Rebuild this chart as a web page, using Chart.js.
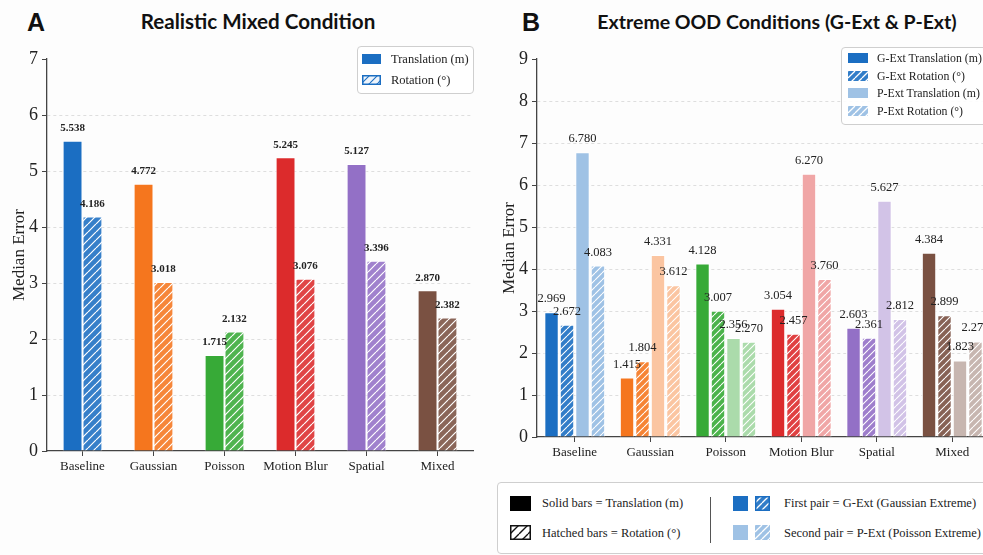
<!DOCTYPE html>
<html><head><meta charset="utf-8">
<script src="https://cdn.jsdelivr.net/npm/chart.js@4.4.1/dist/chart.umd.min.js"></script>
<style>
html,body{margin:0;padding:0;background:#fdfdfd;width:983px;height:555px;overflow:hidden;position:relative;font-family:"Liberation Serif",serif;color:#222}
canvas{position:absolute}
.letter{position:absolute;font:bold 25px "Liberation Sans",Arial,sans-serif;color:#111;line-height:1}
.title{position:absolute;font:bold 19.5px Lato,"Open Sans",sans-serif;white-space:nowrap;transform:translateX(-50%);color:#111;line-height:1}
.box{position:absolute;border:1px solid #cfcfcf;border-radius:4px;background:rgba(255,255,255,0.9)}
.txt{position:absolute;white-space:nowrap;font-size:12.5px;line-height:14px;color:#222}
.txtB{position:absolute;white-space:nowrap;font-size:11.8px;line-height:14px;color:#222}
.btxt{position:absolute;white-space:nowrap;font-size:12.5px;line-height:14px;color:#222}
</style></head><body>
<div class="letter" style="left:27px;top:10px">A</div>
<div class="title" id="tA" style="left:258px;top:11px;font-size:20.6px">Realistic Mixed Condition</div>
<div class="letter" style="left:522px;top:10px">B</div>
<div class="title" id="tB" style="left:777px;top:12px">Extreme OOD Conditions (G-Ext &amp; P-Ext)</div>
<canvas id="cA" width="490" height="480" style="left:0;top:0;width:490px;height:480px"></canvas>
<canvas id="cB" width="520" height="470" style="left:490px;top:0;width:520px;height:470px"></canvas>
<div id="overlay"></div>
<script>
// ---- data ----
const categories = ['Baseline', 'Gaussian', 'Poisson', 'Motion Blur', 'Spatial', 'Mixed'];
const realTranslation = [5.538, 4.772, 1.715, 5.245, 5.127, 2.870];
const realRotation    = [4.186, 3.018, 2.132, 3.076, 3.396, 2.382];
const gExtTranslation = [2.969, 1.415, 4.128, 3.054, 2.603, 4.384];
const gExtRotation    = [2.672, 1.804, 3.007, 2.457, 2.361, 2.899];
const pExtTranslation = [6.780, 4.331, 2.356, 6.270, 5.627, 1.823];
const pExtRotation    = [4.083, 3.612, 2.270, 3.760, 2.812, 2.276];
const yTicksA = [0, 1, 2, 3, 4, 5, 6, 7];
const yTicksB = [0, 1, 2, 3, 4, 5, 6, 7, 8, 9];
const legendLabelsA = ['Translation (m)', 'Rotation (°)'];
const legendLabelsB = ['G-Ext Translation (m)', 'G-Ext Rotation (°)', 'P-Ext Translation (m)', 'P-Ext Rotation (°)'];

// ---- styles ----
const baseColors = ['#1b6ec2', '#f5761e', '#37aa37', '#dc2b2c', '#9370c6', '#7a5142'];
function mix(hex, t) {
  const n = parseInt(hex.slice(1), 16);
  const r = (n >> 16) & 255, g = (n >> 8) & 255, b = n & 255;
  const f = v => Math.round(v + (255 - v) * t);
  return 'rgb(' + f(r) + ',' + f(g) + ',' + f(b) + ')';
}
function hatchCanvas(fill, line, size, lw) {
  const c = document.createElement('canvas');
  c.width = c.height = size;
  const x = c.getContext('2d');
  x.fillStyle = fill; x.fillRect(0, 0, size, size);
  x.strokeStyle = line; x.lineWidth = lw;
  x.beginPath();
  for (const k of [-1, 0, 1]) { x.moveTo(k * size, size); x.lineTo(k * size + size, 0); }
  x.stroke();
  return c;
}
function hatch(fill, line, size, lw) {
  const c = hatchCanvas(fill, line, size, lw);
  return c.getContext('2d').createPattern(c, 'repeat');
}

const valueLabels = {
  id: 'valueLabels',
  afterDatasetsDraw(chart, args, opts) {
    const ctx = chart.ctx;
    ctx.save();
    ctx.font = opts.font; ctx.fillStyle = opts.color;
    ctx.textAlign = 'center'; ctx.textBaseline = 'bottom';
    chart.data.datasets.forEach((ds, i) => {
      chart.getDatasetMeta(i).data.forEach((el, j) => {
        ctx.fillText(ds.data[j].toFixed(3), el.x, el.y - opts.offset);
      });
    });
    ctx.restore();
  }
};

function axes(maxV, ticksArr, xH, labelPad) {
  return {
    x: {
      grid: { display: true, drawOnChartArea: false, offset: false, tickLength: 5, tickColor: '#444', color: '#444' },
      border: { color: '#444', width: 1.3 },
      ticks: { font: { family: 'Liberation Serif', size: 13 }, color: '#222', padding: labelPad, maxRotation: 0, autoSkip: false },
      afterFit(s) { s.height = xH; }
    },
    y: {
      min: 0, max: maxV,
      afterBuildTicks(s) { s.ticks = ticksArr.map(v => ({ value: v })); },
      ticks: { font: { family: 'Liberation Serif', size: 18 }, color: '#222', padding: 4 },
      grid: {
        color: c => (c.tick && c.tick.value > 0 && c.tick.value < maxV) ? '#dedede' : 'rgba(0,0,0,0)',
        tickColor: '#444', tickLength: 5, lineWidth: 1
      },
      border: { dash: [3, 3], color: '#444', width: 1.3 },
      title: { display: true, text: 'Median Error', font: { family: 'Liberation Serif', size: 17 }, color: '#222', padding: { top: 9, bottom: 0 } },
      afterFit(s) { s.width = 47; }
    }
  };
}

new Chart(document.getElementById('cA'), {
  type: 'bar',
  data: {
    labels: categories,
    datasets: [
      { label: legendLabelsA[0], data: realTranslation, backgroundColor: baseColors, borderColor: '#fff', borderWidth: 1 },
      { label: legendLabelsA[1], data: realRotation, backgroundColor: baseColors.map(c => hatch(mix(c, 0.12), '#fff', 8, 1.2)), borderColor: '#fff', borderWidth: 1 }
    ]
  },
  options: {
    responsive: false, animation: false,
    layout: { padding: { top: 59, right: 17, left: 0, bottom: 0 } },
    datasets: { bar: { categoryPercentage: 0.56, barPercentage: 1 } },
    plugins: { legend: { display: false }, tooltip: { enabled: false },
      valueLabels: { font: 'bold 11px "Liberation Serif"', color: '#222', offset: 7 } },
    scales: axes(7, yTicksA, 29, 3)
  },
  plugins: [valueLabels]
});

new Chart(document.getElementById('cB'), {
  type: 'bar',
  data: {
    labels: categories,
    datasets: [
      { label: legendLabelsB[0], data: gExtTranslation, backgroundColor: baseColors, borderColor: '#fff', borderWidth: 1 },
      { label: legendLabelsB[1], data: gExtRotation, backgroundColor: baseColors.map(c => hatch(mix(c, 0.1), '#fff', 7, 1.1)), borderColor: '#fff', borderWidth: 1 },
      { label: legendLabelsB[2], data: pExtTranslation, backgroundColor: baseColors.map(c => mix(c, 0.58)), borderColor: '#fff', borderWidth: 1 },
      { label: legendLabelsB[3], data: pExtRotation, backgroundColor: baseColors.map(c => hatch(mix(c, 0.58), '#fff', 7, 1.1)), borderColor: '#fff', borderWidth: 1 }
    ]
  },
  options: {
    responsive: false, animation: false,
    layout: { padding: { top: 59, right: 20, left: 0, bottom: 0 } },
    datasets: { bar: { categoryPercentage: 0.82, barPercentage: 0.93 } },
    plugins: { legend: { display: false }, tooltip: { enabled: false },
      valueLabels: { font: '12.5px "Liberation Serif"', color: '#222', offset: 7 } },
    scales: axes(9, yTicksB, 33, 3)
  },
  plugins: [valueLabels]
});

// ---- HTML legends ----
const ov = document.getElementById('overlay');
function box(l, t, w, h) { const d = document.createElement('div'); d.className = 'box'; Object.assign(d.style, { left: l + 'px', top: t + 'px', width: w + 'px', height: h + 'px' }); ov.appendChild(d); }
function swatch(l, t, w, h, fill, hatchCol, border, size, lw) {
  const c = document.createElement('canvas');
  c.width = w; c.height = h;
  Object.assign(c.style, { left: l + 'px', top: t + 'px', width: w + 'px', height: h + 'px' });
  const x = c.getContext('2d');
  x.fillStyle = hatchCol ? x.createPattern(hatchCanvas(fill, hatchCol, size || 7, lw || 1.1), 'repeat') : fill;
  x.fillRect(0, 0, w, h);
  if (border) { x.strokeStyle = border; x.lineWidth = 1.5; x.strokeRect(0.75, 0.75, w - 1.5, h - 1.5); }
  ov.appendChild(c);
}
function text(l, cy, s, cls) { const d = document.createElement('div'); d.className = cls || 'txt'; d.textContent = s; Object.assign(d.style, { left: l + 'px', top: (cy - 7) + 'px' }); ov.appendChild(d); }

// Legend A
box(357, 46, 115, 46);
swatch(362, 54, 19, 10, baseColors[0]);
text(391, 59, legendLabelsA[0]);
swatch(362, 75, 19, 10, '#eef4fb', baseColors[0], baseColors[0], 8, 1.1);
text(391, 80, legendLabelsA[1]);

// Legend B
box(841, 47, 170, 76);
const rowsB = [58, 76, 93, 111];
swatch(848, rowsB[0] - 5, 20, 10, baseColors[0]);
swatch(848, rowsB[1] - 5, 20, 10, mix(baseColors[0], 0.1), '#fff', null, 7, 1.3);
swatch(848, rowsB[2] - 5, 20, 10, mix(baseColors[0], 0.58));
swatch(848, rowsB[3] - 5, 20, 10, mix(baseColors[0], 0.58), '#fff', null, 7, 1.3);
legendLabelsB.forEach((s, i) => text(877, rowsB[i], s, 'txtB'));

// Bottom legend
box(497, 482, 520, 70);
swatch(510, 496, 21, 15, '#000');
text(542, 503, 'Solid bars = Translation (m)', 'btxt');
swatch(510, 525, 21, 15, '#fff', '#111', '#111', 9, 1.4);
text(542, 533, 'Hatched bars = Rotation (°)', 'btxt');
const dv = document.createElement('div');
Object.assign(dv.style, { position: 'absolute', left: '710px', top: '497px', width: '1px', height: '46px', background: '#555' });
ov.appendChild(dv);
swatch(733, 496, 15, 15, baseColors[0]);
swatch(755, 496, 15, 15, mix(baseColors[0], 0.1), '#fff', baseColors[0], 7, 1.3);
text(784, 503, 'First pair = G-Ext (Gaussian Extreme)', 'btxt');
swatch(733, 525, 15, 15, mix(baseColors[0], 0.58));
swatch(755, 525, 15, 15, mix(baseColors[0], 0.58), '#fff', null, 7, 1.3);
text(784, 533, 'Second pair = P-Ext (Poisson Extreme)', 'btxt');
</script>
</body></html>
